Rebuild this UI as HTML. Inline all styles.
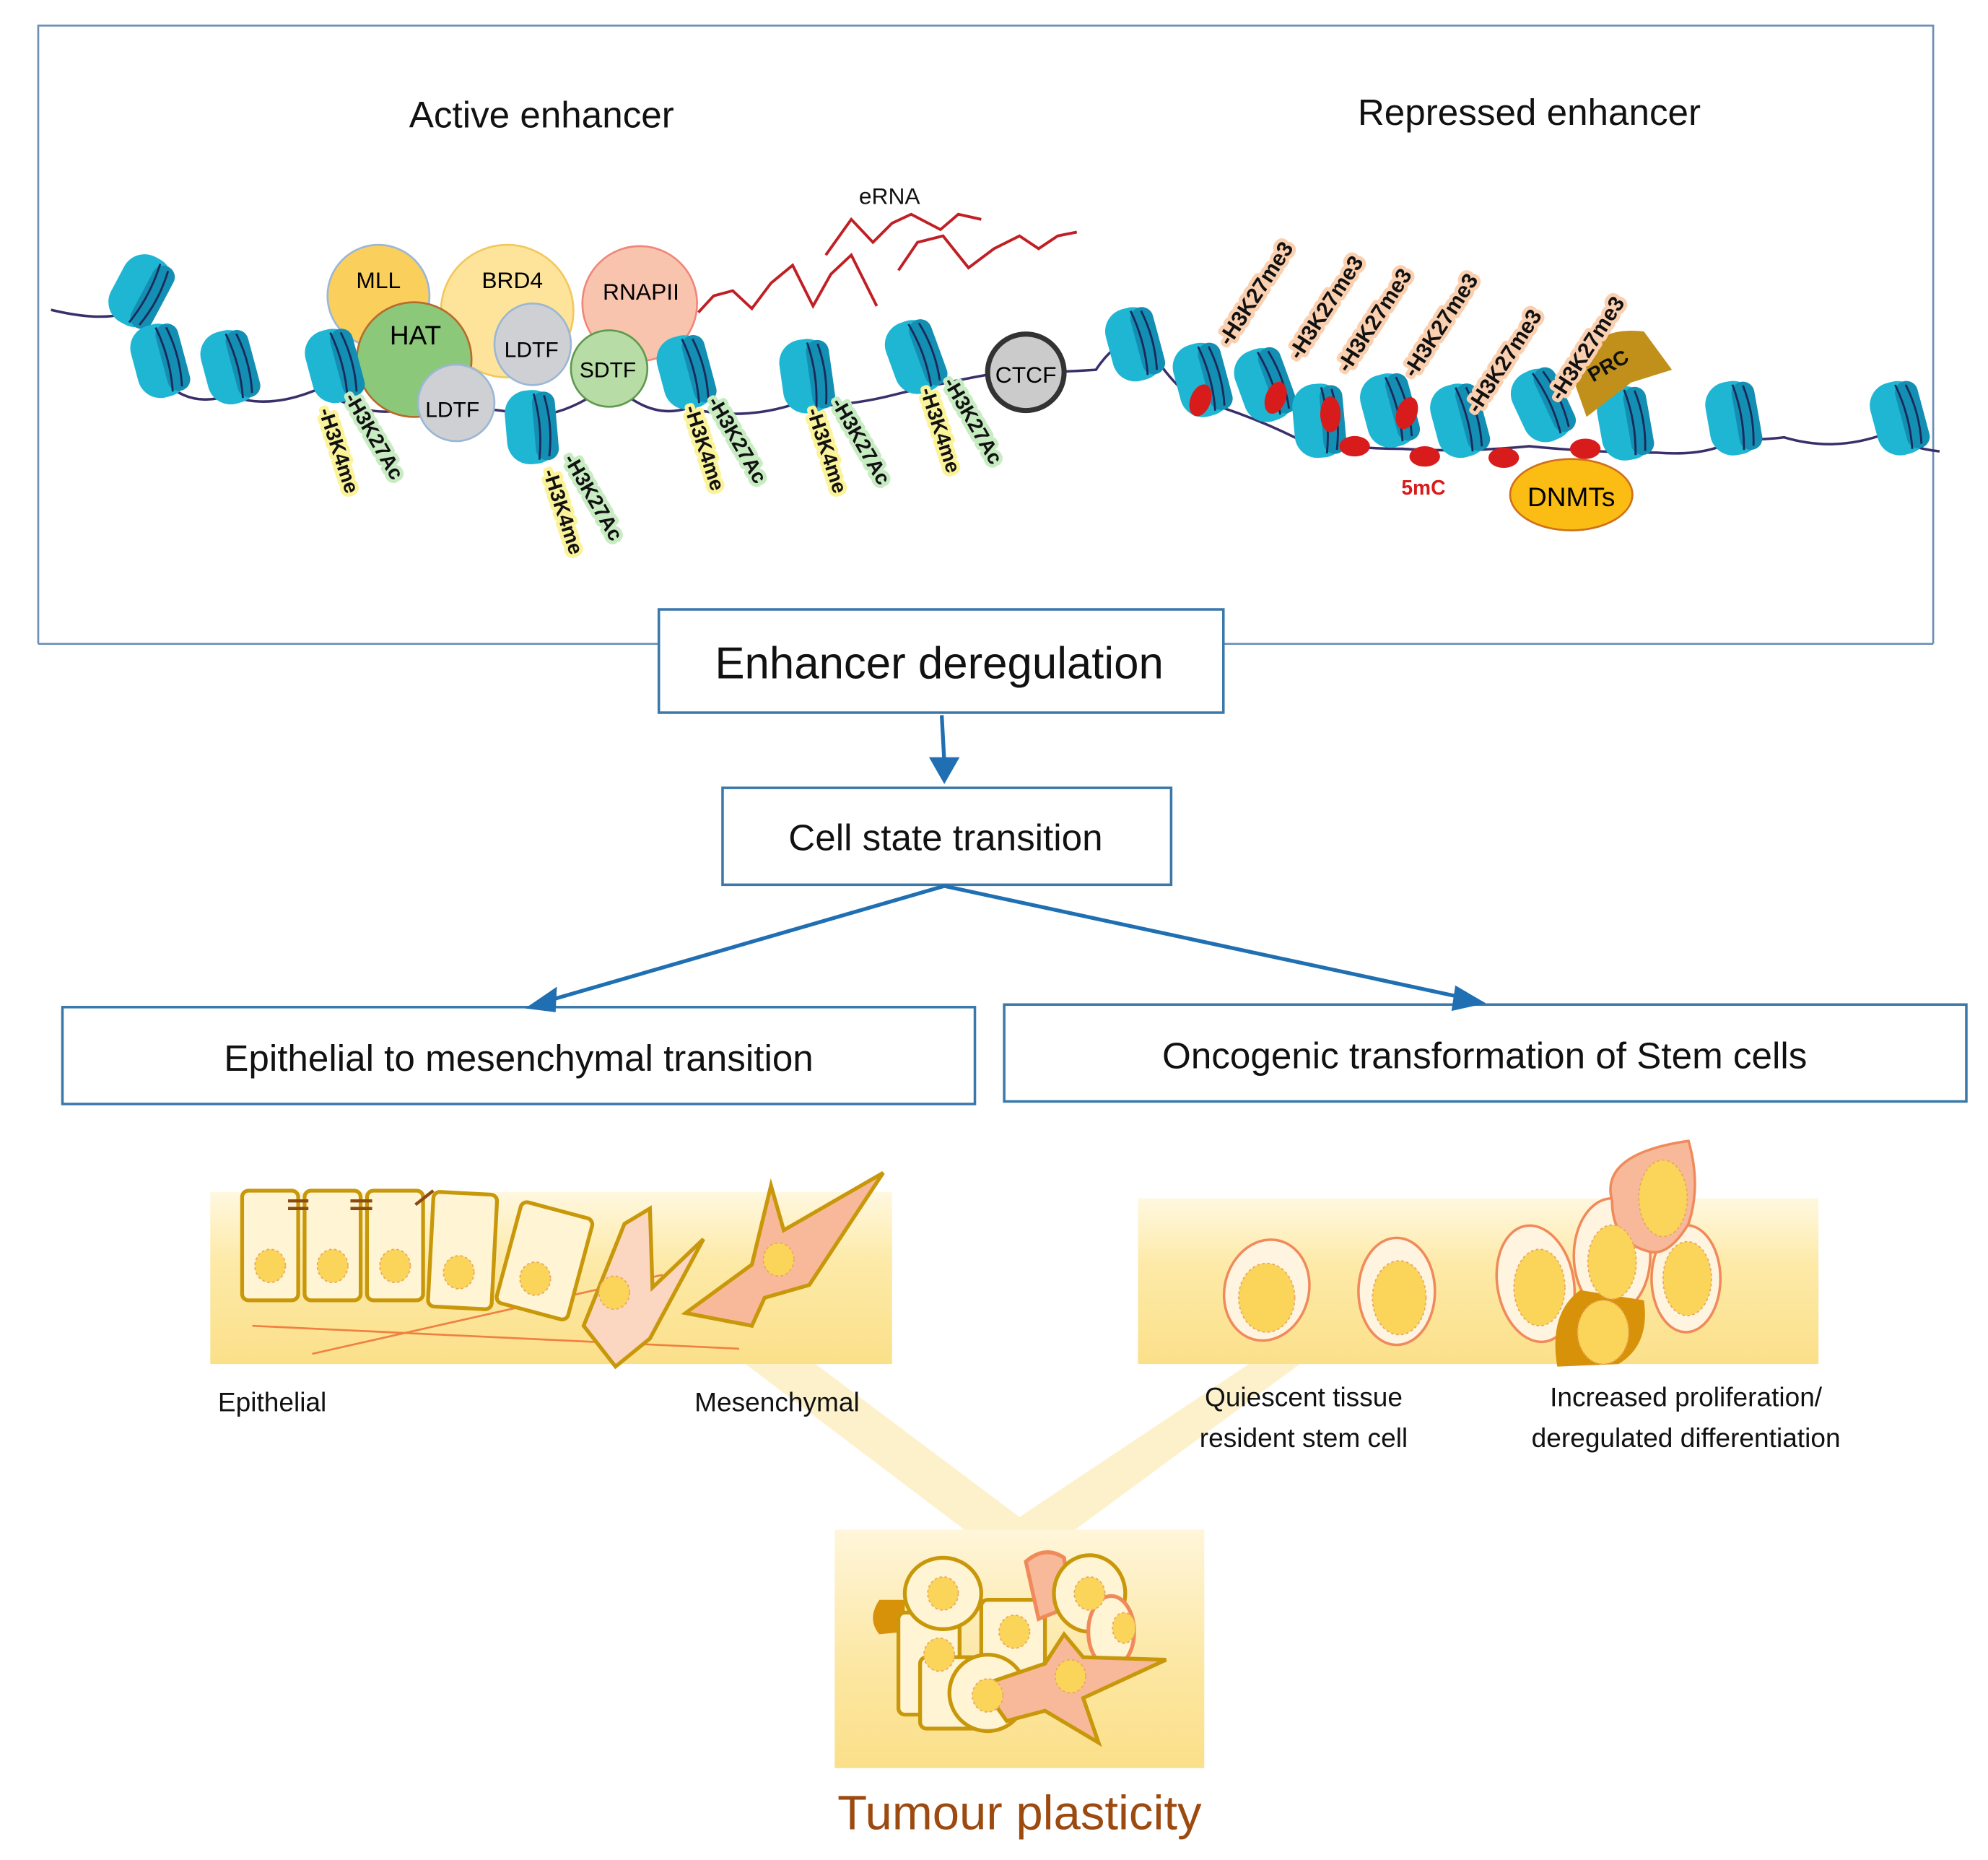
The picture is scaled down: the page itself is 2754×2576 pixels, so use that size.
<!DOCTYPE html>
<html><head><meta charset="utf-8"><style>
html,body{margin:0;padding:0;background:#fff}
svg{display:block}
text{font-family:"Liberation Sans",sans-serif}
</style></head><body>
<svg width="2754" height="2576" viewBox="0 0 1560 1459" xmlns="http://www.w3.org/2000/svg">
<defs>
<g id="nuc">
<rect x="-20" y="-29" width="40" height="58" rx="18" fill="#1fb6d3"/>
<rect x="2" y="-27" width="18" height="54" rx="9" fill="#138fb3"/>
<path d="M4,-26 Q9,0 4,26 M12,-24 Q17,0 12,24" stroke="#1a2a5a" stroke-width="1.6" fill="none"/>
</g>
<linearGradient id="gy" x1="0" y1="0" x2="0" y2="1">
<stop offset="0" stop-color="#fff8e0"/><stop offset="0.4" stop-color="#fdeaa8"/><stop offset="1" stop-color="#fbe08a"/>
</linearGradient>
<linearGradient id="gb" x1="0" y1="0" x2="0" y2="1">
<stop offset="0" stop-color="#fff6da"/><stop offset="0.6" stop-color="#fce6a0"/><stop offset="1" stop-color="#fbe08a"/>
</linearGradient>
</defs>

<path d="M30,505 V20 H1517 V505" fill="none" stroke="#6b8fb8" stroke-width="1.5"/>
<line x1="30" y1="505" x2="517" y2="505" stroke="#6b8fb8" stroke-width="1.5"/>
<line x1="960" y1="505" x2="1517" y2="505" stroke="#6b8fb8" stroke-width="1.5"/>

<text x="425" y="100" font-size="29" text-anchor="middle" fill="#111">Active enhancer</text>
<text x="1200" y="98" font-size="29" text-anchor="middle" fill="#111">Repressed enhancer</text>

<path d="M40,243 Q90,255 110,240 M110,240 Q120,270 130,300 Q150,320 180,310 Q210,322 250,305 Q290,330 320,320 Q380,318 410,325 Q440,330 480,300 Q510,330 540,320 Q580,330 620,318 Q660,320 700,310 Q740,300 780,293 Q830,292 860,290 Q880,260 900,270 Q930,320 960,320 Q990,330 1020,345 Q1060,352 1100,352 Q1150,355 1200,350 Q1250,355 1300,355 Q1340,358 1360,345 Q1385,345 1400,343 Q1440,355 1480,340 Q1500,352 1522,354" fill="none" stroke="#3b2f6b" stroke-width="2"/>

<text x="698" y="160" font-size="18" text-anchor="middle" fill="#111">eRNA</text>
<path d="M548,245 L560,232 L575,228 L590,242 L605,222 L622,208 L638,240 L652,215 L668,200 L688,240 M648,200 L668,172 L685,190 L700,175 L715,168 L738,180 L752,168 L770,172 M705,212 L720,190 L740,185 L760,210 L780,195 L800,185 L815,195 L830,185 L845,182" fill="none" stroke="#c01f24" stroke-width="2.2"/>

<use href="#nuc" transform="translate(110,228) rotate(28)"/>
<use href="#nuc" transform="translate(125,283) rotate(-15)"/>
<use href="#nuc" transform="translate(180,288) rotate(-15)"/>

<circle cx="297" cy="232" r="40" fill="#fbcf5c" stroke="#9ab7d6" stroke-width="1.5"/>
<text x="297" y="226" font-size="18" text-anchor="middle">MLL</text>
<circle cx="398" cy="244" r="52" fill="#fde49a" stroke="#f2c85a" stroke-width="1.5"/>
<text x="402" y="226" font-size="18" text-anchor="middle">BRD4</text>
<circle cx="502" cy="238" r="45" fill="#f9c4ae" stroke="#f0867a" stroke-width="1.5"/>
<text x="503" y="235" font-size="18" text-anchor="middle">RNAPII</text>
<circle cx="325" cy="282" r="45" fill="#8cc87a" stroke="#b86a2a" stroke-width="1.5"/>
<text x="326" y="270" font-size="21" text-anchor="middle">HAT</text>
<use href="#nuc" transform="translate(262,287) rotate(-15)"/>
<ellipse cx="418" cy="270" rx="30" ry="32" fill="#cfd0d4" stroke="#9ab7d6" stroke-width="1.5"/>
<text x="417" y="280" font-size="17" text-anchor="middle">LDTF</text>
<ellipse cx="358" cy="316" rx="30" ry="30" fill="#cfd0d4" stroke="#9ab7d6" stroke-width="1.5"/>
<text x="355" y="327" font-size="17" text-anchor="middle">LDTF</text>
<ellipse cx="478" cy="289" rx="30" ry="30" fill="#b7dca6" stroke="#5e9a4e" stroke-width="1.5"/>
<text x="477" y="296" font-size="17" text-anchor="middle">SDTF</text>

<use href="#nuc" transform="translate(417,335) rotate(-5)"/>
<use href="#nuc" transform="translate(538,292) rotate(-15)"/>
<use href="#nuc" transform="translate(633,295) rotate(-8)"/>
<use href="#nuc" transform="translate(718,280) rotate(-20)"/>

<circle cx="805" cy="292" r="30" fill="#cbcbcb" stroke="#333" stroke-width="4"/>
<text x="805" y="300" font-size="18" text-anchor="middle">CTCF</text>

<g font-size="16" font-weight="bold" fill="#111" stroke-width="6" paint-order="stroke" stroke-linejoin="round">
<text transform="translate(250,322) rotate(72)" stroke="#fbf39a">-H3K4me</text>
<text transform="translate(270,312) rotate(60)" stroke="#c8ecc2">-H3K27Ac</text>
<text transform="translate(426,370) rotate(72)" stroke="#fbf39a">-H3K4me</text>
<text transform="translate(442,360) rotate(60)" stroke="#c8ecc2">-H3K27Ac</text>
<text transform="translate(537,320) rotate(72)" stroke="#fbf39a">-H3K4me</text>
<text transform="translate(555,315) rotate(60)" stroke="#c8ecc2">-H3K27Ac</text>
<text transform="translate(633,322) rotate(72)" stroke="#fbf39a">-H3K4me</text>
<text transform="translate(652,316) rotate(60)" stroke="#c8ecc2">-H3K27Ac</text>
<text transform="translate(722,306) rotate(72)" stroke="#fbf39a">-H3K4me</text>
<text transform="translate(740,300) rotate(60)" stroke="#c8ecc2">-H3K27Ac</text>
</g>

<use href="#nuc" transform="translate(890,270) rotate(-15)"/>
<use href="#nuc" transform="translate(943,298) rotate(-15)"/>
<use href="#nuc" transform="translate(992,302) rotate(-20)"/>
<use href="#nuc" transform="translate(1035,330) rotate(-5)"/>
<use href="#nuc" transform="translate(1090,322) rotate(-15)"/>
<use href="#nuc" transform="translate(1145,330) rotate(-15)"/>
<use href="#nuc" transform="translate(1210,318) rotate(-25)"/>
<use href="#nuc" transform="translate(1275,332) rotate(-10)"/>
<use href="#nuc" transform="translate(1360,328) rotate(-10)"/>
<use href="#nuc" transform="translate(1490,328) rotate(-15)"/>
<g fill="#d81c1c">
<ellipse cx="942" cy="314" rx="8" ry="13" transform="rotate(20 942 314)"/>
<ellipse cx="1001" cy="312" rx="8" ry="13" transform="rotate(20 1001 312)"/>
<ellipse cx="1044" cy="325" rx="8" ry="14"/>
<ellipse cx="1104" cy="324" rx="8" ry="13" transform="rotate(20 1104 324)"/>
<ellipse cx="1063" cy="350" rx="12" ry="8"/>
<ellipse cx="1118" cy="358" rx="12" ry="8"/>
<ellipse cx="1180" cy="359" rx="12" ry="8"/>
<ellipse cx="1244" cy="352" rx="12" ry="8"/>
</g>
<text x="1117" y="388" font-size="16" font-weight="bold" fill="#d81c1c" text-anchor="middle">5mC</text>
<ellipse cx="1233" cy="388" rx="48" ry="28" fill="#fbbd14" stroke="#d0701a" stroke-width="1.5"/>
<text x="1233" y="397" font-size="21" text-anchor="middle">DNMTs</text>
<path d="M1245,327 L1232,290 Q1250,255 1290,260 L1312,290 L1280,300 Z" fill="#c1901a"/>
<text transform="translate(1250,300) rotate(-30)" font-size="16" font-weight="bold" fill="#111">PRC</text>

<g font-size="17" font-weight="bold" fill="#111" stroke="#fbd0b0" stroke-width="6" paint-order="stroke" stroke-linejoin="round">
<text transform="translate(965,272) rotate(-57)">-H3K27me3</text>
<text transform="translate(1020,283) rotate(-57)">-H3K27me3</text>
<text transform="translate(1058,293) rotate(-57)">-H3K27me3</text>
<text transform="translate(1110,297) rotate(-57)">-H3K27me3</text>
<text transform="translate(1160,325) rotate(-57)">-H3K27me3</text>
<text transform="translate(1225,315) rotate(-57)">-H3K27me3</text>
</g>

<g fill="#fff" stroke="#3a78aa" stroke-width="2">
<rect x="517" y="478" width="443" height="81"/>
<rect x="567" y="618" width="352" height="76"/>
<rect x="49" y="790" width="716" height="76"/>
<rect x="788" y="788" width="755" height="76"/>
</g>
<text x="737" y="532" font-size="35" text-anchor="middle" fill="#111">Enhancer deregulation</text>
<text x="742" y="667" font-size="29" text-anchor="middle" fill="#111">Cell state transition</text>
<text x="407" y="840" font-size="29" text-anchor="middle" fill="#111">Epithelial to mesenchymal transition</text>
<text x="1165" y="838" font-size="29" text-anchor="middle" fill="#111">Oncogenic transformation of Stem cells</text>

<g stroke="#1f6fb2" stroke-width="3" fill="#1f6fb2">
<path d="M739,561 Q740,580 741,598" fill="none"/>
<path d="M729,594 L741,615 L753,594 Z" stroke="none"/>
<line x1="741" y1="695" x2="430" y2="785"/>
<line x1="741" y1="695" x2="1150" y2="783"/>
<path d="M412,791 L437,774 L436,794 Z" stroke="none"/>
<path d="M1166,787 L1142,773 L1139,793 Z" stroke="none"/>
</g>

<path d="M585,1070 L640,1070 L800,1190 L980,1070 L1020,1070 L830,1210 L770,1210 Z" fill="#fdf0c6" opacity="0.9"/>

<rect x="165" y="935" width="535" height="135" fill="url(#gy)"/>
<g stroke="#f08040" stroke-width="1.5">
<line x1="198" y1="1040" x2="580" y2="1058"/>
<line x1="245" y1="1062" x2="520" y2="1000"/>
</g>
<g fill="#fff4d4" stroke="#c8980a" stroke-width="3">
<rect x="190" y="934" width="44" height="86" rx="5"/>
<rect x="239" y="934" width="44" height="86" rx="5"/>
<rect x="288" y="934" width="44" height="86" rx="5"/>
<rect x="338" y="936" width="50" height="90" rx="5" transform="rotate(3 363 980)"/>
<rect x="398" y="948" width="58" height="82" rx="5" transform="rotate(15 427 990)"/>
</g>
<path d="M458,1040 L490,960 L510,948 L512,1010 L552,972 L510,1050 L483,1072 Z" fill="#fbd6c0" stroke="#c8980a" stroke-width="3"/>
<path d="M538,1030 L590,992 L605,930 L615,965 L693,920 L635,1008 L600,1018 L590,1040 Z" fill="#f7b99a" stroke="#c8980a" stroke-width="3"/>
<g stroke="#8a4a10" stroke-width="2.5"><path d="M226,942 H242 M226,948 H242 M275,942 H292 M275,948 H292 M326,945 L340,934"/></g>
<g fill="#fbd45a" stroke="#e8a860" stroke-width="1" stroke-dasharray="2,2">
<ellipse cx="212" cy="993" rx="12" ry="13"/><ellipse cx="261" cy="993" rx="12" ry="13"/><ellipse cx="310" cy="993" rx="12" ry="13"/>
<ellipse cx="360" cy="998" rx="12" ry="13"/><ellipse cx="420" cy="1003" rx="12" ry="13"/><ellipse cx="482" cy="1014" rx="12" ry="13"/><ellipse cx="611" cy="988" rx="12" ry="13"/>
</g>
<text x="171" y="1107" font-size="21" fill="#111">Epithelial</text>
<text x="545" y="1107" font-size="21" fill="#111">Mesenchymal</text>

<rect x="893" y="940" width="534" height="130" fill="url(#gy)"/>
<g stroke="#f08a5a" stroke-width="2">
<ellipse cx="994" cy="1012" rx="33" ry="40" fill="#fff4e0" transform="rotate(15 994 1012)"/>
<ellipse cx="1096" cy="1013" rx="30" ry="42" fill="#fff4e0"/>
<ellipse cx="1205" cy="1007" rx="30" ry="46" fill="#fff4e0" transform="rotate(-10 1205 1007)"/>
<ellipse cx="1323" cy="1003" rx="27" ry="42" fill="#fff4e0"/>
<ellipse cx="1265" cy="985" rx="30" ry="45" fill="#fff4e0"/>
<path d="M1265,942 Q1255,905 1325,895 Q1335,930 1325,960 Q1310,985 1295,982 Q1265,975 1265,942 Z" fill="#f7b99a"/>
</g>
<path d="M1222,1072 Q1215,1030 1240,1012 L1290,1020 Q1295,1055 1270,1070 Z" fill="#d8920a"/>
<g fill="#fbd45a" stroke="#e8a860" stroke-width="1" stroke-dasharray="2,2">
<ellipse cx="994" cy="1018" rx="22" ry="27"/><ellipse cx="1098" cy="1018" rx="21" ry="29"/>
<ellipse cx="1208" cy="1010" rx="20" ry="30"/><ellipse cx="1324" cy="1003" rx="19" ry="29"/><ellipse cx="1265" cy="990" rx="19" ry="29"/>
<ellipse cx="1305" cy="940" rx="19" ry="30"/><ellipse cx="1258" cy="1045" rx="20" ry="25"/>
</g>
<text x="1023" y="1103" font-size="21" text-anchor="middle" fill="#111">Quiescent tissue</text>
<text x="1023" y="1135" font-size="21" text-anchor="middle" fill="#111">resident stem cell</text>
<text x="1323" y="1103" font-size="21" text-anchor="middle" fill="#111">Increased proliferation/</text>
<text x="1323" y="1135" font-size="21" text-anchor="middle" fill="#111">deregulated differentiation</text>

<rect x="655" y="1200" width="290" height="187" fill="url(#gb)"/>
<g stroke="#c8980a" stroke-width="3" fill="#fff4d4">
<path d="M690,1255 Q680,1270 690,1282 L710,1280 L710,1255 Z" fill="#d8920a" stroke="none"/>
<rect x="705" y="1265" width="48" height="80" rx="5"/>
<rect x="722" y="1300" width="50" height="56" rx="5"/>
<rect x="770" y="1255" width="50" height="72" rx="5"/>
<ellipse cx="740" cy="1250" rx="30" ry="28"/>
<path d="M805,1225 Q820,1212 835,1222 L840,1260 L815,1270 Z" fill="#f7b99a" stroke="#f08a5a"/>
<ellipse cx="855" cy="1250" rx="28" ry="30"/>
<ellipse cx="872" cy="1280" rx="18" ry="28" stroke="#f08a5a"/>
<ellipse cx="775" cy="1328" rx="30" ry="30"/>
<path d="M770,1322 L820,1305 L835,1282 L850,1300 L915,1302 L850,1332 L862,1367 L820,1342 L790,1350 Z" fill="#f7b99a"/>
</g>
<g fill="#fbd45a" stroke="#e8a860" stroke-width="1" stroke-dasharray="2,2">
<ellipse cx="740" cy="1250" rx="12" ry="13"/><ellipse cx="855" cy="1250" rx="12" ry="13"/><ellipse cx="796" cy="1280" rx="12" ry="13"/>
<ellipse cx="737" cy="1298" rx="12" ry="13"/><ellipse cx="775" cy="1330" rx="12" ry="13"/><ellipse cx="840" cy="1315" rx="12" ry="13"/><ellipse cx="882" cy="1277" rx="9" ry="12"/>
</g>
<text x="800" y="1435" font-size="38" text-anchor="middle" fill="#9c4a10">Tumour plasticity</text>
</svg>
</body></html>
